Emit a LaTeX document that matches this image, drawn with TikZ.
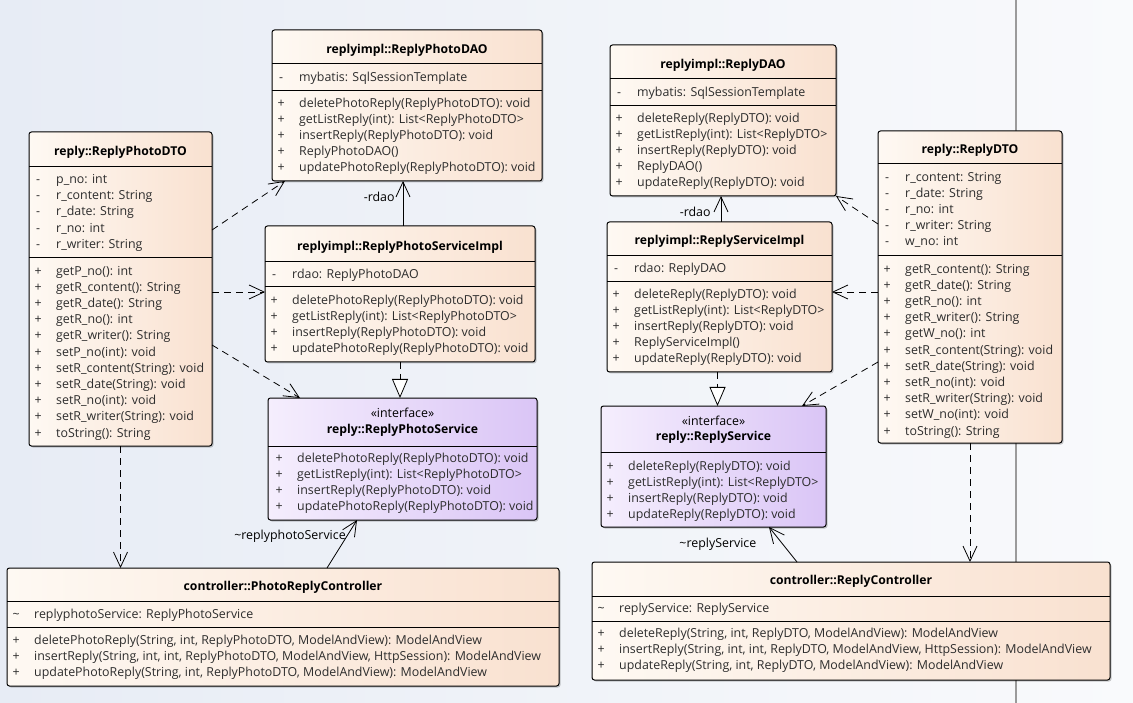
\documentclass[tikz,border=0pt]{standalone}
\usepackage{fontspec}
\setmainfont{Open Sans}
\usepackage{array}
\usetikzlibrary{arrows.meta,calc,shadows}

\definecolor{bgL}{RGB}{231,236,245}
\definecolor{bgR}{RGB}{249,250,252}
\definecolor{clsL}{RGB}{254,249,243}
\definecolor{clsR}{RGB}{249,225,208}
\definecolor{ifL}{RGB}{245,238,253}
\definecolor{ifR}{RGB}{218,197,246}
\definecolor{txt}{RGB}{45,45,45}
\definecolor{lane}{RGB}{155,155,155}

% one compartment of a class: visibility column + member text
\newcommand{\members}[1]{\begin{tabular}{@{}wc{8pt}@{\hspace{14pt}}l@{}}#1\end{tabular}}
% horizontal compartment divider, #2 points below the top edge
\newcommand{\compsep}[2]{\draw[sepline] ($(#1.north west)+(0,#2)$) -- ($(#1.north east)+(0,#2)$);}

\begin{document}
\begin{tikzpicture}[x=1pt,y=-1pt,
  font=\fontsize{12.4}{16.2}\selectfont,
  box/.style={draw=black, line width=1pt, rounded corners=2.5pt, anchor=north west,
    inner sep=0pt, outer sep=0pt,
    drop shadow={shadow xshift=1.5pt, shadow yshift=-1.5pt, opacity=0.2, fill=black}},
  cls/.style={box, left color=clsL, right color=clsR},
  ifc/.style={box, left color=ifL, right color=ifR},
  sepline/.style={draw=black, line width=0.8pt},
  ttl/.style={font=\fontsize{12.2}{14}\selectfont\bfseries, inner sep=0pt, text=black},
  stereo/.style={font=\fontsize{12.4}{14}\selectfont, inner sep=0pt, text=black},
  mem/.style={anchor=north west, inner sep=0pt, text=txt},
  lbl/.style={inner sep=0pt, text=black, font=\fontsize{12.4}{14}\selectfont},
  dep/.style={draw=black, line width=0.8pt, dash pattern=on 7pt off 5pt,
    -{Straight Barb[length=15pt,width=14pt]}},
  assoc/.style={draw=black, line width=0.8pt, -{Straight Barb[length=15pt,width=14pt]}},
  real/.style={draw=black, line width=0.8pt, dash pattern=on 7pt off 5pt,
    -{Triangle[length=19pt,width=16pt,fill=white]}},
]
\useasboundingbox (0,0) rectangle (1133,703);
\fill[left color=bgL, right color=bgR] (0,0) rectangle (1133,703);

% swimlane divider
\coordinate (laneTop) at (1016,0);
\coordinate (laneBot) at (1016,703);
\draw[lane, line width=2.5pt] (laneTop) -- (laneBot);

% ---------------- reply::ReplyPhotoDTO
\node[cls, minimum width=183, minimum height=314] (pdto) at (29,132) {};
\compsep{pdto}{34}
\compsep{pdto}{125}
\node[ttl] (pdto-t) at ($(pdto.north)+(0,20)$) {reply::ReplyPhotoDTO};
\node[mem] (pdto-a) at ($(pdto.north west)+(5,40)$) {\members{
  - & p\_no: int\\ - & r\_content: String\\ - & r\_date: String\\ - & r\_no: int\\ - & r\_writer: String}};
\node[mem] (pdto-m) at ($(pdto.north west)+(5,131.5)$) {\members{
  + & getP\_no(): int\\ + & getR\_content(): String\\ + & getR\_date(): String\\
  + & getR\_no(): int\\ + & getR\_writer(): String\\ + & setP\_no(int): void\\
  + & setR\_content(String): void\\ + & setR\_date(String): void\\ + & setR\_no(int): void\\
  + & setR\_writer(String): void\\ + & toString(): String}};

% ---------------- replyimpl::ReplyPhotoDAO
\node[cls, minimum width=270, minimum height=151] (pdao) at (272,30) {};
\compsep{pdao}{33}
\compsep{pdao}{60}
\node[ttl] (pdao-t) at ($(pdao.north)+(0,20)$) {replyimpl::ReplyPhotoDAO};
\node[mem] (pdao-a) at ($(pdao.north west)+(5,39.5)$) {\members{- & mybatis: SqlSessionTemplate}};
\node[mem] (pdao-m) at ($(pdao.north west)+(5,65.5)$) {\members{
  + & deletePhotoReply(ReplyPhotoDTO): void\\ + & getListReply(int): List<ReplyPhotoDTO>\\
  + & insertReply(ReplyPhotoDTO): void\\ + & ReplyPhotoDAO()\\ + & updatePhotoReply(ReplyPhotoDTO): void}};

% ---------------- replyimpl::ReplyPhotoServiceImpl
\node[cls, minimum width=270, minimum height=136] (psimpl) at (265,226) {};
\compsep{psimpl}{35}
\compsep{psimpl}{60}
\node[ttl] (psimpl-t) at ($(psimpl.north)+(0,21)$) {replyimpl::ReplyPhotoServiceImpl};
\node[mem] (psimpl-a) at ($(psimpl.north west)+(5,40.5)$) {\members{- & rdao: ReplyPhotoDAO}};
\node[mem] (psimpl-m) at ($(psimpl.north west)+(5,66.5)$) {\members{
  + & deletePhotoReply(ReplyPhotoDTO): void\\ + & getListReply(int): List<ReplyPhotoDTO>\\
  + & insertReply(ReplyPhotoDTO): void\\ + & updatePhotoReply(ReplyPhotoDTO): void}};

% ---------------- reply::ReplyPhotoService (interface)
\node[ifc, minimum width=269, minimum height=122] (psvc) at (268,398) {};
\compsep{psvc}{48}
\node[stereo] (psvc-s) at ($(psvc.north)+(0,15)$) {«interface»};
\node[ttl] (psvc-t) at ($(psvc.north)+(0,32)$) {reply::ReplyPhotoService};
\node[mem] (psvc-m) at ($(psvc.north west)+(7,52.5)$) {\members{
  + & deletePhotoReply(ReplyPhotoDTO): void\\ + & getListReply(int): List<ReplyPhotoDTO>\\
  + & insertReply(ReplyPhotoDTO): void\\ + & updatePhotoReply(ReplyPhotoDTO): void}};

% ---------------- replyimpl::ReplyDAO
\node[cls, minimum width=226, minimum height=151] (rdao) at (610,45) {};
\compsep{rdao}{33}
\compsep{rdao}{60}
\node[ttl] (rdao-t) at ($(rdao.north)+(0,20)$) {replyimpl::ReplyDAO};
\node[mem] (rdao-a) at ($(rdao.north west)+(5,39.5)$) {\members{- & mybatis: SqlSessionTemplate}};
\node[mem] (rdao-m) at ($(rdao.north west)+(5,65.5)$) {\members{
  + & deleteReply(ReplyDTO): void\\ + & getListReply(int): List<ReplyDTO>\\
  + & insertReply(ReplyDTO): void\\ + & ReplyDAO()\\ + & updateReply(ReplyDTO): void}};

% ---------------- replyimpl::ReplyServiceImpl
\node[cls, minimum width=225, minimum height=150] (rsimpl) at (607,222) {};
\compsep{rsimpl}{33}
\compsep{rsimpl}{59}
\node[ttl] (rsimpl-t) at ($(rsimpl.north)+(0,19)$) {replyimpl::ReplyServiceImpl};
\node[mem] (rsimpl-a) at ($(rsimpl.north west)+(5,39)$) {\members{- & rdao: ReplyDAO}};
\node[mem] (rsimpl-m) at ($(rsimpl.north west)+(5,64.5)$) {\members{
  + & deleteReply(ReplyDTO): void\\ + & getListReply(int): List<ReplyDTO>\\
  + & insertReply(ReplyDTO): void\\ + & ReplyServiceImpl()\\ + & updateReply(ReplyDTO): void}};

% ---------------- reply::ReplyService (interface)
\node[ifc, minimum width=225, minimum height=121] (rsvc) at (601,406) {};
\compsep{rsvc}{46}
\node[stereo] (rsvc-s) at ($(rsvc.north)+(0,15)$) {«interface»};
\node[ttl] (rsvc-t) at ($(rsvc.north)+(0,31)$) {reply::ReplyService};
\node[mem] (rsvc-m) at ($(rsvc.north west)+(5,52.5)$) {\members{
  + & deleteReply(ReplyDTO): void\\ + & getListReply(int): List<ReplyDTO>\\
  + & insertReply(ReplyDTO): void\\ + & updateReply(ReplyDTO): void}};

% ---------------- reply::ReplyDTO
\node[cls, minimum width=184, minimum height=312] (rdto) at (878,131) {};
\compsep{rdto}{32}
\compsep{rdto}{124}
\node[ttl] (rdto-t) at ($(rdto.north)+(0,19)$) {reply::ReplyDTO};
\node[mem] (rdto-a) at ($(rdto.north west)+(5,38.5)$) {\members{
  - & r\_content: String\\ - & r\_date: String\\ - & r\_no: int\\ - & r\_writer: String\\ - & w\_no: int}};
\node[mem] (rdto-m) at ($(rdto.north west)+(5,130.5)$) {\members{
  + & getR\_content(): String\\ + & getR\_date(): String\\ + & getR\_no(): int\\
  + & getR\_writer(): String\\ + & getW\_no(): int\\ + & setR\_content(String): void\\
  + & setR\_date(String): void\\ + & setR\_no(int): void\\ + & setR\_writer(String): void\\
  + & setW\_no(int): void\\ + & toString(): String}};

% ---------------- controller::PhotoReplyController
\node[cls, minimum width=552, minimum height=118] (pctrl) at (7,568) {};
\compsep{pctrl}{33}
\compsep{pctrl}{59}
\node[ttl] (pctrl-t) at ($(pctrl.north)+(0,19)$) {controller::PhotoReplyController};
\node[mem] (pctrl-a) at ($(pctrl.north west)+(5,39)$) {\members{\textasciitilde & replyphotoService: ReplyPhotoService}};
\node[mem] (pctrl-m) at ($(pctrl.north west)+(5,64.5)$) {\members{
  + & deletePhotoReply(String, int, ReplyPhotoDTO, ModelAndView): ModelAndView\\
  + & insertReply(String, int, int, ReplyPhotoDTO, ModelAndView, HttpSession): ModelAndView\\
  + & updatePhotoReply(String, int, ReplyPhotoDTO, ModelAndView): ModelAndView}};

% ---------------- controller::ReplyController
\node[cls, minimum width=518, minimum height=118] (rctrl) at (592,562) {};
\compsep{rctrl}{34}
\compsep{rctrl}{59}
\node[ttl] (rctrl-t) at ($(rctrl.north)+(0,19)$) {controller::ReplyController};
\node[mem] (rctrl-a) at ($(rctrl.north west)+(5,38.5)$) {\members{\textasciitilde & replyService: ReplyService}};
\node[mem] (rctrl-m) at ($(rctrl.north west)+(5,64)$) {\members{
  + & deleteReply(String, int, ReplyDTO, ModelAndView): ModelAndView\\
  + & insertReply(String, int, int, ReplyDTO, ModelAndView, HttpSession): ModelAndView\\
  + & updateReply(String, int, ReplyDTO, ModelAndView): ModelAndView}};

% connector end points on the box edges
\coordinate (pAsrc) at ($(psimpl.north)+(3,0)$);
\coordinate (pAdst) at (pAsrc |- pdao.south);
\coordinate (rAsrc) at ($(rsimpl.north)+(1.5,0)$);
\coordinate (rAdst) at (rAsrc |- rdao.south);
\coordinate (rRsrc) at ($(rsimpl.south)+(-2,0)$);
\coordinate (rRdst) at (rRsrc |- rsvc.north);

% ================= connectors: photo side
\draw[dep] ($(pdto.north east)+(0,98)$) -- ($(pdao.south west)+(13,0)$);
\draw[dep] ($(pdto.north east)+(0,160)$) -- ($(psimpl.north west)+(0,66)$);
\draw[dep] ($(pdto.north east)+(0,213)$) -- ($(psvc.north west)+(32,0)$);
\draw[dep] (pdto.south) -- (pdto.south |- pctrl.north);
\draw[assoc] (pAsrc) -- (pAdst)
  node[lbl, pos=0.64, anchor=east, xshift=-8pt] (lbl-prdao) {-rdao};
\draw[real] (psimpl.south) -- (psimpl.south |- psvc.north);
\draw[assoc] ($(pctrl.north west)+(320,0)$) -- ($(psvc.south west)+(89,0)$)
  node[lbl, pos=0.67, anchor=east, xshift=-1pt] (lbl-psvc) {\textasciitilde replyphotoService};

% ================= connectors: reply side
\draw[dep] ($(rdto.north west)+(0,93)$) -- (rdao.south east);
\draw[dep] ($(rdto.north west)+(0,161)$) -- ($(rsimpl.north east)+(0,70)$);
\draw[dep] ($(rdto.north west)+(0,231)$) -- ($(rsvc.north west)+(201,0)$);
\draw[dep] (rdto.south) -- (rdto.south |- rctrl.north);
\draw[assoc] (rAsrc) -- (rAdst)
  node[lbl, pos=0.38, anchor=east, xshift=-10pt] (lbl-rrdao) {-rdao};
\draw[real] (rRsrc) -- (rRdst);
\draw[assoc] ($(rctrl.north west)+(205,0)$) -- ($(rsvc.south west)+(168,0)$)
  node[lbl, pos=0.51, anchor=east, xshift=-26pt] (lbl-rsvc) {\textasciitilde replyService};
\end{tikzpicture}
\end{document}
